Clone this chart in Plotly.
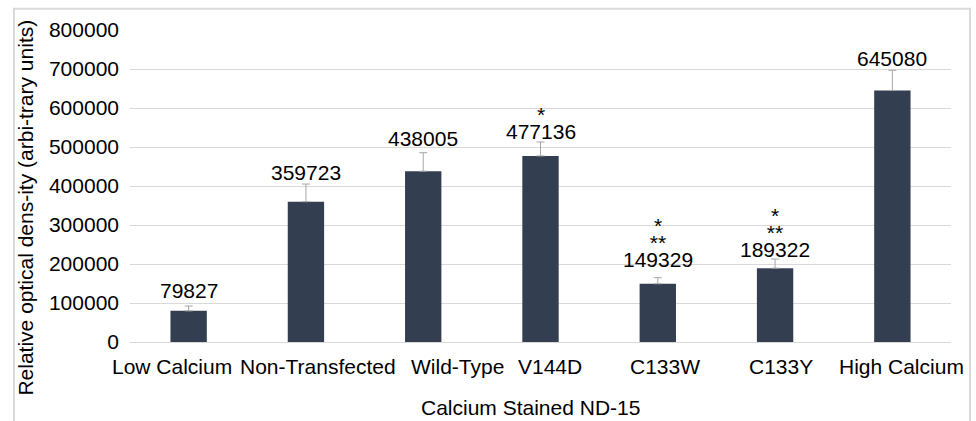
import plotly.graph_objects as go

# Calcium staining of ND-15 cells: mean optical density per condition
categories = ["Low Calcium", "Non-Transfected", "Wild-Type", "V144D",
              "C133W", "C133Y", "High Calcium"]
values = [79827, 359723, 438005, 477136, 149329, 189322, 645080]
errors = [12500, 45300, 47400, 35700, 15600, 23500, 51600]
# significance markers stacked above the value labels
sig_near = ["", "", "", "*", "**", "**", ""]
sig_far = ["", "", "", "", "*", "*", ""]
y_ticks = [0, 100000, 200000, 300000, 400000, 500000, 600000, 700000, 800000]

FONT = "Liberation Sans, Arial, sans-serif"
BAR = "#333F50"
GRID = "#D9D9D9"

# per-label vertical lift of the value labels above the error caps (px)
label_lift = [16, 12, 15, 11, 19, 10, 12]
# horizontal nudges of the category labels (px)
cat_nudge = [-17, 12, 34, 9, 7, 6, 9]


def big(s):
    return f"<span style='font-size:21px'>{s}</span>"


fig = go.Figure(go.Bar(
    x=categories, y=values, width=0.31,
    marker=dict(color=BAR, line=dict(width=0)),
    error_y=dict(type="data", array=errors, arrayminus=[0] * len(errors),
                 symmetric=False, visible=True,
                 color="#A6A6A6", thickness=1, width=4),
    hoverinfo="x+y",
))

ann = []
for i, (c, v, e) in enumerate(zip(categories, values, errors)):
    top = v + e
    # value label with its significance stars stacked tightly above it
    lines = [s for s in (sig_far[i], sig_near[i]) if s] + [str(v)]
    ann.append(dict(x=c, y=top, xref="x", yref="y",
                    text="<br>".join(big(s) for s in lines),
                    showarrow=False, yanchor="bottom",
                    yshift=label_lift[i] - 14,
                    font=dict(size=13, color="#000000", family=FONT)))
    # category label under the axis
    ann.append(dict(x=c, y=0, xref="x", yref="paper", text=c,
                    showarrow=False, yanchor="middle", xanchor="center",
                    xshift=cat_nudge[i], yshift=-24,
                    font=dict(size=21, color="#000000", family=FONT)))

# axis titles
ann.append(dict(x=0.488, y=0, xref="paper", yref="paper",
                text="Calcium Stained ND-15", showarrow=False,
                yanchor="middle", yshift=-65,
                font=dict(size=21, color="#000000", family=FONT)))
ann.append(dict(x=-0.127, y=0.43, xref="paper", yref="paper",
                text="Relative optical dens-ity (arbi-trary units)",
                showarrow=False, textangle=-90, xanchor="center",
                yanchor="middle",
                font=dict(size=21, color="#000000", family=FONT)))

fig.update_layout(
    width=976, height=421, autosize=False,
    margin=dict(l=130, r=25, t=30, b=79),
    paper_bgcolor="white", plot_bgcolor="white",
    showlegend=False,
    font=dict(family=FONT, size=21, color="#000000"),
    xaxis=dict(type="category", showticklabels=False, showgrid=False,
               zeroline=False, showline=False, ticks="",
               range=[-0.5, 6.5]),
    yaxis=dict(range=[0, 800000], tickvals=y_ticks,
               ticktext=[str(t) for t in y_ticks],
               showgrid=True, gridcolor=GRID, gridwidth=1,
               zeroline=True, zerolinecolor=GRID, zerolinewidth=1,
               showline=False, ticks="", ticklabelstandoff=10,
               tickfont=dict(size=21, color="#000000", family=FONT)),
    annotations=ann,
    shapes=[dict(type="rect", xref="paper", yref="paper",
                 x0=-0.1413, x1=1.0231, y0=-0.3, y1=1.068,
                 line=dict(color=GRID, width=2), layer="below")],
)

fig.write_html("out.html")
